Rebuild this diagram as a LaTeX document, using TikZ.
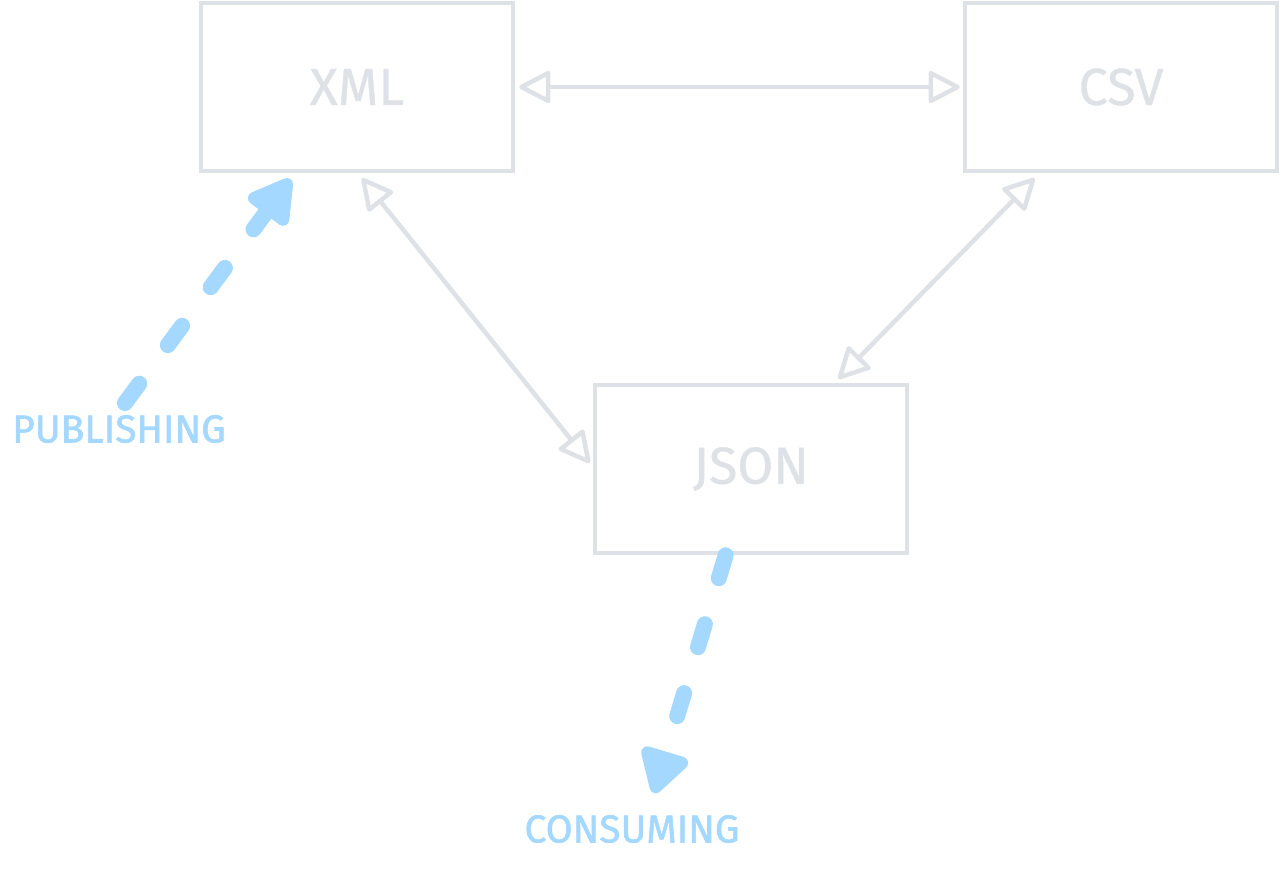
\documentclass[tikz,border=0pt]{standalone}
\usepackage{fontspec}
\setmainfont{Fira Sans}
\newfontfamily\lblfont[FakeBold=1.6]{Fira Sans}
\newfontfamily\boxfont[FakeBold=0.8]{Fira Sans}
\usetikzlibrary{arrows.meta,calc}
\definecolor{boxgray}{HTML}{DEE2E6}
\definecolor{sky}{HTML}{A5D8FF}
\tikzset{
  fmt/.style={draw=boxgray, line width=4.5pt, minimum width=312pt, minimum height=168pt,
    text=boxgray, font=\boxfont\fontsize{52}{60}\selectfont, inner sep=0pt},
  link/.style={draw=boxgray, line width=4.5pt, line cap=round,
    {Triangle[open,round,length=34pt,width=34pt]}-{Triangle[open,round,length=34pt,width=34pt]}},
  flow/.style={draw=sky, line width=16pt, line cap=round, dash pattern=on 24pt off 48pt,
    -{Triangle[round,length=50pt,width=54pt]}},
  lbl/.style={text=sky, font=\lblfont\fontsize{39}{46}\selectfont, inner sep=0pt},
}
\begin{document}
\begin{tikzpicture}[x=1pt,y=-1pt]
\useasboundingbox (0,0) rectangle (1284,884);
\node[fmt] (xml) at (357,87) {XML};
\node[fmt] (csv) at (1121,87) {CSV};
\node[fmt] (json) at (751,469) {JSON};
\node[lbl] (pub) at (119,429) {PUBLISHING};
\node[lbl] (cons) at (632,829) {CONSUMING};
\draw[link] ($(xml.east)+(4,0)$) -- ($(csv.west)+(-3,0)$);
\draw[link] ($(xml.south)+(5,5)$) -- ($(json.west)+(-3,-6)$);
\draw[link] ($(csv.south west)!0.227!(csv.south east)+(0,5)$) -- ($(json.north west)!0.776!(json.north east)+(0,-4)$);
\draw[flow] ($(pub.center)+(6,-26)$) -- ($(xml.south west)!0.29!(xml.south east)+(0,6)$);
\draw[flow] ($(json.south west)!0.42!(json.south east)$) -- ($(cons.center)+(22,-36)$);
\end{tikzpicture}
\end{document}
